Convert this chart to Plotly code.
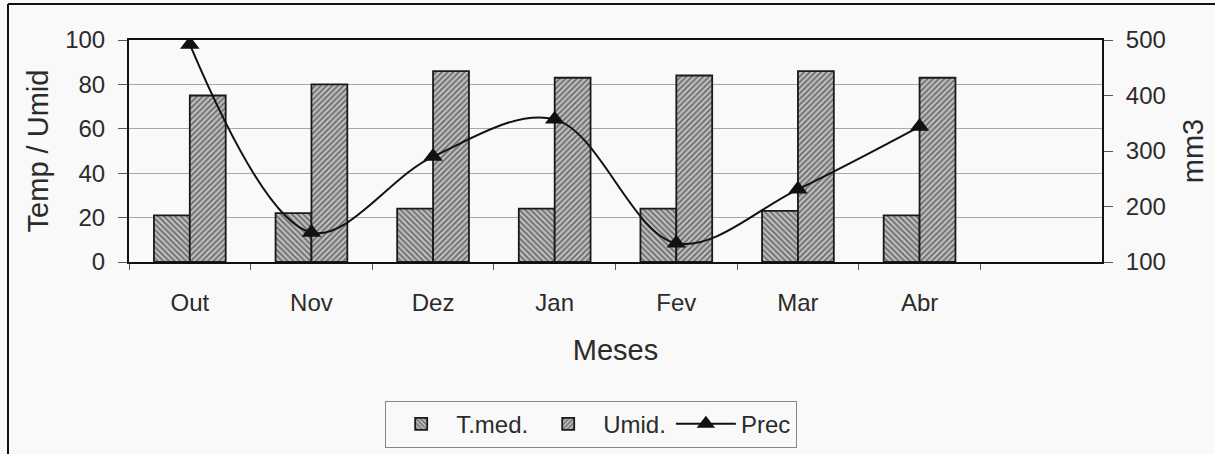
import plotly.graph_objects as go

meses = ["Out", "Nov", "Dez", "Jan", "Fev", "Mar", "Abr"]
t_med = [21, 22, 24, 24, 24, 23, 21]
umid = [75, 80, 86, 83, 84, 86, 83]
prec = [492, 153, 290, 357, 134, 231, 344]

FONT = "Liberation Sans, Arial, sans-serif"
TXT = "#2b2b2b"
BG = "#f9f9f9"

fig = go.Figure()
fig.add_trace(go.Bar(
    x=meses, y=t_med, name="T.med.",
    marker=dict(color="#bbbbbb", line=dict(color="#1a1a1a", width=1.8),
                pattern=dict(shape="\\", fgcolor="#1e1e1e", bgcolor="#c4c4c4",
                             size=4, solidity=0.5)),
))
fig.add_trace(go.Bar(
    x=meses, y=umid, name="Umid.",
    marker=dict(color="#bbbbbb", line=dict(color="#1a1a1a", width=1.8),
                pattern=dict(shape="/", fgcolor="#1e1e1e", bgcolor="#c4c4c4",
                             size=4, solidity=0.5)),
))
fig.add_trace(go.Scatter(
    x=meses, y=prec, name="Prec", yaxis="y2", mode="lines+markers",
    line=dict(color="#111111", width=2, shape="spline", smoothing=1.0),
    marker=dict(symbol="triangle-up", size=17, color="#111111"),
))

fig.update_layout(
    width=1215, height=454,
    margin=dict(l=129, r=113, t=40, b=192, autoexpand=False),
    paper_bgcolor=BG, plot_bgcolor=BG,
    font=dict(family=FONT, size=24, color=TXT),
    barmode="group", bargap=0.41, bargroupgap=0,
    showlegend=True,
    legend=dict(orientation="h", x=0.475, xanchor="center", y=-0.625, yanchor="top",
                bordercolor="#888888", borderwidth=1, bgcolor=BG,
                font=dict(size=24, color=TXT), itemwidth=60,
                traceorder="normal"),
    xaxis=dict(type="category", categoryorder="array", categoryarray=meses,
               range=[-0.5, 7.5], tickson="boundaries", ticks="outside", ticklen=6,
               tickcolor="#555555", showline=True, linecolor="#111111", linewidth=2,
               mirror=True, showgrid=False, ticklabelstandoff=18,
               title=dict(text="Meses", standoff=25)),
    yaxis=dict(range=[0, 100], dtick=20, ticks="outside", ticklen=9, tickcolor="#555555",
               showline=True, linecolor="#111111", linewidth=2, mirror=True,
               showgrid=True, gridcolor="#a8a8a8", gridwidth=1, zeroline=False,
               ticklabelstandoff=8,
               title=dict(text="Temp / Umid", standoff=8)),
    yaxis2=dict(range=[100, 500], dtick=100, overlaying="y", side="right",
                ticks="outside", ticklen=9, tickcolor="#555555", showgrid=False,
                showline=True, linecolor="#111111", linewidth=2, zeroline=False,
                ticklabelstandoff=8,
                title=dict(text="mm3", standoff=18)),
    shapes=[
        dict(type="line", xref="paper", yref="paper", x0=(8 - 129) / 973, x1=1.2,
             y0=1 + 36 / 222, y1=1 + 36 / 222, line=dict(color="#111111", width=2)),
        dict(type="line", xref="paper", yref="paper", x0=(8 - 129) / 973, x1=(8 - 129) / 973,
             y0=1 + 36 / 222, y1=-1.0, line=dict(color="#111111", width=2)),
    ],
)

fig.write_html("out.html", config={"displayModeBar": False},
               post_script="document.body.style.margin='0px';")
